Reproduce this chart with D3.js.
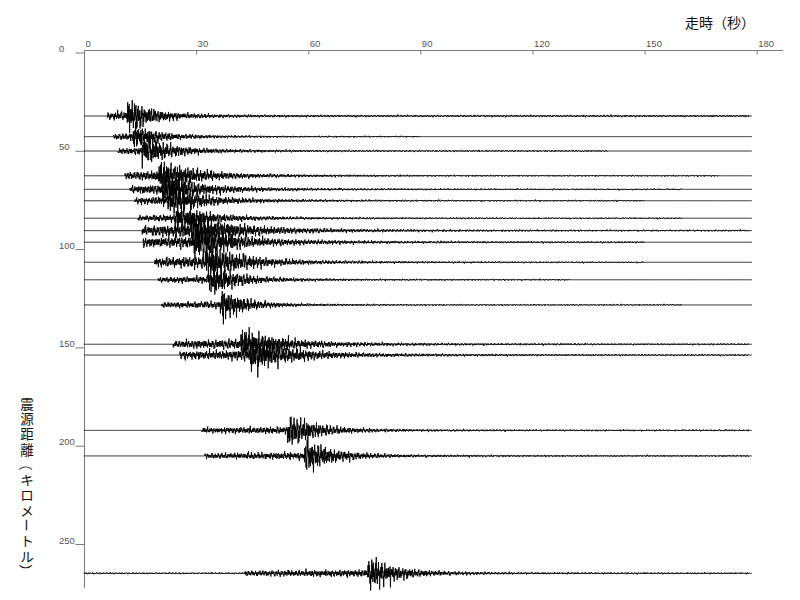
<!DOCTYPE html>
<html>
<head>
<meta charset="utf-8">
<script src="https://cdn.jsdelivr.net/npm/d3@7"></script>
<style>
  html, body { margin: 0; padding: 0; background: #fff; }
  svg { display: block; }
</style>
</head>
<body>
<svg id="chart" width="800" height="600"></svg>
<script>
// ---- Data ----
const xTicks = [0, 30, 60, 90, 120, 150, 180];           // travel time (s)
const yTicks = [0, 50, 100, 150, 200, 250];               // hypocentral distance (km)
const xTitle = "走時（秒）";
const yTitle = "震源距離（キロメートル）";

// one entry per station trace
const distances = [32.3, 42.8, 50.1, 62.7, 69.6, 75.4, 84.3, 90.6, 96.5, 106.7, 115.6, 128.4, 148.4, 153.9, 192.2, 205.2, 264.9];
const pTimes    = [6.3, 7.9, 9.2, 11.0, 12.3, 13.6, 14.5, 15.6, 15.9, 18.9, 19.9, 20.8, 23.9, 25.7, 31.5, 32.4, 43.1];
const sTimes    = [11.5, 13.1, 15.5, 20.0, 21.0, 22.5, 24.4, 28.5, 29.5, 32.5, 33.5, 36.5, 42.0, 44.5, 54.5, 59.0, 76.0];
const pAmps     = [2.0, 1.6, 1.6, 2.2, 2.2, 1.8, 1.5, 2.9, 2.7, 2.6, 1.5, 1.5, 2.1, 2.3, 1.5, 1.5, 1.5];   // km-equivalent
const sAmps     = [6.6, 4.8, 6.2, 7.0, 6.2, 5.6, 5.2, 7.0, 6.2, 7.4, 6.6, 6.6, 6.2, 6.8, 7.0, 7.0, 7.0];
const codaTau   = [5, 5, 6, 7, 7, 7, 7, 8, 8, 7, 6, 5, 8, 8, 6, 6, 6];
const tailAmps  = [0.55, 0.4, 0.45, 0.4, 0.4, 0.4, 0.4, 0.45, 0.45, 0.4, 0.4, 0.4, 0.45, 0.45, 0.45, 0.45, 0.45];
const tailEnds  = [178, 90, 140, 170, 160, 150, 160, 178, 150, 150, 130, 160, 178, 178, 178, 178, 178];
const preAmps   = [0, 0, 0, 0, 0, 0, 0, 0, 0, 0, 0, 0, 0, 0, 0, 0, 0.45];
const traceEnd  = 178.7;

// hand-typed wiggle shapes (texture of the seismogram)
const wiggleA = [3,-7,5,-2,8,-6,1,-9,4,-3,7,-5,2,-8,6,-1,9,-4,3,-6,5,-7,2,-3,8,-9,4,-2,6,-5,1,-7,9,-3,5,-8,2,-4,7,-6,3,-1,8,-5,4,-9,6,-2,5,-7,1,-3,9,-6,2,-8,4,-5,7,-1,3,-9,6,-4,8,-2,5,-6,1,-7,4,-3,9,-5,2,-8,7,-1,6,-4,3,-9,5,-2,8,-6,1,-7,4,-5,9,-3,2,-8,6,-1,7];
const wiggleB = [2,5,7,4,-1,-5,-8,-6,-2,3,6,8,5,1,-3,-7,-9,-4,0,4,7,6,2,-2,-6,-7,-3,1,5,8,7,3,-1,-4,-8,-5,-1,2,6,9,5,0,-5,-7,-6,-2,3,7,6,2,-3,-6,-8,-3,1,4,8,6,3,-2,-5,-9,-6,-1,3,5,7,4,0,-4,-7,-5,-2,2,6,8,5,1,-3,-6,-8,-4,0,3,7,5,2,-2,-5];
const gainC   = [1.0,0.6,1.4,0.8,0.5,1.7,0.9,1.2,0.4,1.1,1.5,0.7,1.0,0.5,1.3,1.8,0.6,0.9,1.2,0.5,1.0,1.4,0.7,1.6,0.8,0.4,1.1,1.3,0.6,1.0,1.9,0.7,0.9,1.2,0.5,1.4,0.8,1.0,0.6,1.5,1.1,0.7,1.3,0.9,0.5,1.2,1.6,0.8,1.0,0.6,1.3,0.9,1.1];

// ---- Chart ----
const svg = d3.select("#chart");
const x = d3.scaleLinear().domain([0, 180]).range([84, 756.7]);
const y = d3.scaleLinear().domain([0, 250]).range([52.5, 544]);

const axisColor = "#7a7a7a";
const labelColor = "#555";

// top axis
const xAxis = d3.axisTop(x).tickValues(xTicks).tickSizeInner(-4).tickSizeOuter(0).tickPadding(4);
const gx = svg.append("g").attr("transform", "translate(0,50.5)").call(xAxis);
gx.select(".domain").remove();
gx.selectAll(".tick line").attr("stroke", axisColor);
gx.selectAll(".tick text")
  .attr("text-anchor", "start").attr("dx", 1)
  .attr("fill", labelColor)
  .style("font", "9.5px 'Liberation Sans', Arial, sans-serif");
svg.append("line").attr("x1", 84).attr("x2", 783).attr("y1", 50.5).attr("y2", 50.5).attr("stroke", axisColor);

// left axis
const yAxis = d3.axisLeft(y).tickValues(yTicks).tickSizeInner(9).tickSizeOuter(0).tickPadding(0);
const gy = svg.append("g").attr("transform", "translate(84.5,0)").call(yAxis);
gy.select(".domain").remove();
gy.selectAll(".tick line").attr("stroke", axisColor);
gy.selectAll(".tick text")
  .attr("text-anchor", "start").attr("x", -25.5).attr("dy", "-1")
  .attr("fill", labelColor)
  .style("font", "9.5px 'Liberation Sans', Arial, sans-serif");
svg.append("line").attr("x1", 84.5).attr("x2", 84.5).attr("y1", 50.5).attr("y2", 588).attr("stroke", axisColor);

// titles
svg.append("text").attr("x", 685).attr("y", 28)
  .style("font", "14px 'Noto Sans CJK JP', sans-serif").attr("fill", "#111")
  .text(xTitle);

// vertical title: one glyph per row, brackets and long vowel turned
const chars = Array.from(yTitle);
const rowH = 15.3, cx = 27, top0 = 395;
const gt = svg.append("g").style("font", "13.5px 'Noto Sans CJK JP', sans-serif").attr("fill", "#111");
chars.forEach((c, i) => {
  const cy = top0 + rowH * i + rowH / 2;
  const rot = (c === "（" || c === "）" || c === "ー") ? 90 : 0;
  gt.append("text")
    .attr("transform", `translate(${cx},${cy}) rotate(${rot})`)
    .attr("text-anchor", "middle")
    .attr("dominant-baseline", "central")
    .text(c);
});

// traces
const dt = 0.1;
function envelope(k, t) {
  if (t < pTimes[k]) return preAmps[k];
  const tail = t < tailEnds[k] ? tailAmps[k] : 0;
  if (t < sTimes[k]) {
    const f = (t - pTimes[k]) / (sTimes[k] - pTimes[k]);
    return pAmps[k] * (0.8 + 0.4 * f) + tail * 0.5;
  }
  const ts = t - sTimes[k];
  const burst = ts < 1.5 ? sAmps[k] : sAmps[k] * Math.exp(-(ts - 1.5) / codaTau[k]);
  const coda = pAmps[k] * Math.exp(-ts / (3 * codaTau[k]));
  return burst + coda + tail;
}
const line = d3.line().x(d => x(d.t)).y(d => y(d.v)).curve(d3.curveLinear);
const traces = distances.map((dist, k) => {
  const pts = [];
  const n = Math.round(traceEnd / dt);
  const off = k * 17;
  for (let i = 0; i <= n; i++) {
    const t = i * dt;
    const e = envelope(k, t);
    const g = 0.5 + 0.5 * gainC[(Math.floor(i / 3) + off) % gainC.length];
    const w = (0.75 * wiggleA[(i + off) % wiggleA.length] + 0.35 * wiggleB[(i + 3 * off) % wiggleB.length]) / 9;
    pts.push({ t, v: dist - e * w * g });
  }
  return pts;
});
svg.append("g").selectAll("path").data(traces).join("path")
  .attr("d", line)
  .attr("fill", "none")
  .attr("stroke", "#000")
  .attr("stroke-width", 0.9);
</script>
</body>
</html>
